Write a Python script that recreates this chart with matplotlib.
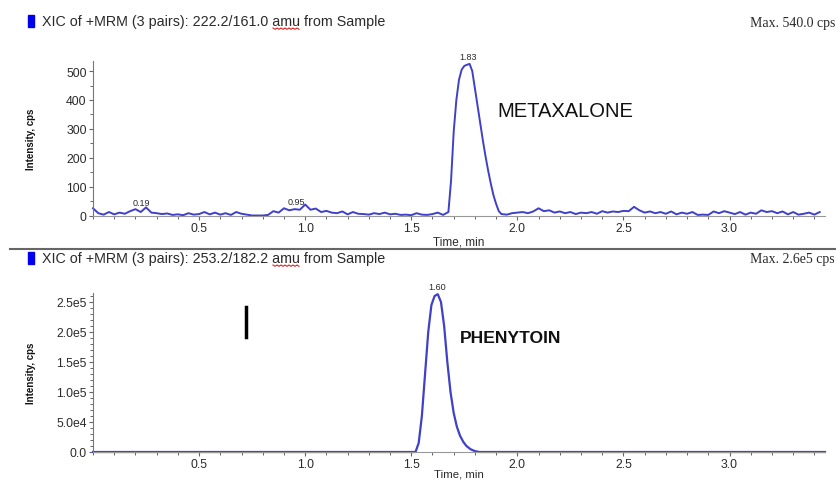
import numpy as np
import matplotlib
matplotlib.use("Agg")
import matplotlib.pyplot as plt
from matplotlib.lines import Line2D
from matplotlib.patches import Rectangle
from matplotlib.ticker import MultipleLocator, FixedLocator

plt.rcParams['font.family'] = ['Liberation Sans', 'DejaVu Sans']

# metaxalone baseline, 0.025 min steps (peak region handled separately)
base_a = [25, 8, 3, 12, 4, 10, 6, 15, 22, 12, 28, 10, 8, 5, 7, 2, 4, 1, 8, 3,
          5, 12, 4, 10, 3, 8, 2, 12, 6, 3, 0, 0, 0, 2, 15, 10, 25, 18, 22, 20,
          38, 20, 24, 12, 16, 10, 8, 14, 4, 12, 6, 5, 3, 8, 5, 10, 4, 6, 2, 3,
          1, 8, 3, 2, 5, 10, 2]                      # 0.000 .. 1.650
peak_t = [1.675, 1.6875, 1.70, 1.7125, 1.725, 1.7375, 1.75, 1.7625, 1.775, 1.7875,
          1.80, 1.8125, 1.825, 1.8375, 1.85, 1.8625, 1.875, 1.8875, 1.90, 1.9125, 1.925]
peak_v = [12, 120, 290, 400, 470, 505, 518, 522, 525, 500,
          440, 380, 320, 260, 205, 155, 110, 70, 40, 15, 5]
base_b = [3, 8,
          10, 12, 8, 14, 25, 15, 18, 10, 14, 8, 12, 5, 10, 8, 12, 6, 15, 10, 14, 12,
          16, 15, 30, 18, 10, 14, 8, 12, 6, 14, 4, 10, 6, 12, 2, 3, 2, 14, 8, 15,
          10, 5, 12, 3, 10, 6, 18, 12, 15, 8, 14, 4, 12, 3, 6, 10, 3, 12]  # 1.950 .. 3.425

metax_t = np.concatenate([np.arange(len(base_a)) * 0.025, peak_t,
                          1.95 + np.arange(len(base_b)) * 0.025])
metax_int = base_a + peak_v + base_b

# phenytoin trace
pheny_t = [0.0, 1.50, 1.52, 1.535, 1.55, 1.565, 1.58, 1.595, 1.61, 1.625, 1.64, 1.655,
           1.67, 1.685, 1.70, 1.715, 1.73, 1.745, 1.76, 1.78, 1.80, 1.82, 3.45]
pheny_int = [0, 0, 0, 1.5e4, 6.0e4, 1.3e5, 2.0e5, 2.45e5, 2.6e5, 2.63e5, 2.5e5, 2.1e5,
             1.5e5, 1.0e5, 6.5e4, 4.2e4, 2.7e4, 1.7e4, 1.0e4, 4.5e3, 1.5e3, 0, 0]

headers = ["XIC of +MRM (3 pairs): 222.2/161.0 amu from Sample",
           "XIC of +MRM (3 pairs): 253.2/182.2 amu from Sample"]
max_txt = ["Max. 540.0 cps", "Max. 2.6e5 cps"]

top_ticks = [0, 100, 200, 300, 400, 500]
bot_ticks = [0, 5e4, 1e5, 1.5e5, 2e5, 2.5e5]
bot_labels = ["0.0", "5.0e4", "1.0e5", "1.5e5", "2.0e5", "2.5e5"]
x_ticks = [0.5, 1.0, 1.5, 2.0, 2.5, 3.0]

W, H = 837, 481
fig = plt.figure(figsize=(W / 100, H / 100), dpi=100)
lc = '#4040c8'
tc = '#2a2a2a'

def fx(px):
    return np.asarray(px) / W

def fy(py):
    return 1 - np.asarray(py) / H

ax1 = fig.add_axes([fx(93), fy(216.5), fx(732), (216.5 - 62) / H])
ax2 = fig.add_axes([fx(93), fy(453), fx(732), (453 - 294) / H])

ax1.plot(metax_t, metax_int, color=lc, lw=1.4, clip_on=False)
ax2.plot(pheny_t, pheny_int, color=lc, lw=1.6, clip_on=False)

ax1.set_ylim(0, 535)
ax2.set_ylim(0, 2.65e5)
for ax in (ax1, ax2):
    ax.set_xlim(0, 3.45)
    for s in ('top', 'right'):
        ax.spines[s].set_visible(False)
    ax.spines['left'].set_color('#777777')
    ax.spines['bottom'].set_color('#999999')
    ax.spines['left'].set_linewidth(0.8)
    ax.spines['bottom'].set_linewidth(0.8)
    ax.xaxis.set_major_locator(FixedLocator(x_ticks))
    ax.xaxis.set_minor_locator(MultipleLocator(0.1))
    ax.set_xticklabels([f"{v:.1f}" for v in x_ticks])
    ax.tick_params(which='both', direction='out', colors='#666666', labelcolor=tc,
                   labelsize=8.8, pad=1.5)
    ax.tick_params(which='major', length=3, width=0.8)
    ax.tick_params(which='minor', length=2, width=0.7)
    ax.set_ylabel("Intensity, cps", fontsize=7, color='#111111', fontweight='bold',
                  labelpad=0)
    ax.yaxis.set_label_coords(-0.078, 0.5)

ax1.set_xlabel("Time, min", fontsize=8.5, color=tc, labelpad=1)
ax2.set_xlabel("Time, min", fontsize=8.2, color=tc, labelpad=-1.5)

ax1.yaxis.set_major_locator(FixedLocator(top_ticks))
ax1.yaxis.set_minor_locator(MultipleLocator(50))
ax1.set_yticklabels([str(v) for v in top_ticks])
ax2.yaxis.set_major_locator(FixedLocator(bot_ticks))
ax2.yaxis.set_minor_locator(MultipleLocator(1e4))
ax2.set_yticklabels(bot_labels)

# peak labels
ax1.text(1.77, 535, "1.83", fontsize=6.5, ha='center', va='bottom', color=tc, clip_on=False)
ax1.text(0.23, 30, "0.19", fontsize=6.5, ha='center', va='bottom', color=tc)
ax1.text(0.96, 33, "0.95", fontsize=6.5, ha='center', va='bottom', color=tc)
ax2.text(1.62, 2.68e5, "1.60", fontsize=6.5, ha='center', va='bottom', color=tc, clip_on=False)

ax1.text(1.905, 365, "METAXALONE", fontsize=14.5, color='#111111', va='center')
ax2.text(1.73, 1.9e5, "PHENYTOIN", fontsize=12.6, color='#111111', va='center',
         fontweight='bold')

# headers
for i, y in enumerate([22, 259]):
    fig.add_artist(Rectangle((fx(28), fy(y + 6)), fx(6), 12 / H, color='#0000ee'))
    fig.text(fx(42), fy(y), headers[i], fontsize=10.3, color=tc, va='center')
    fig.text(fx(835), fy(y + 1), max_txt[i], fontsize=10, color=tc, va='center',
             ha='right', family='Liberation Serif')
    # spell-check squiggle under "amu"
    zx = np.linspace(273, 299, 14)
    zy = y + 7 + 1.3 * (np.arange(14) % 2)
    fig.add_artist(Line2D(fx(zx), fy(zy), color='#dd2222', lw=0.8))

# separator
fig.add_artist(Line2D([fx(10), fx(837)], [fy(250), fy(250)], color='#666666', lw=1.5))

# text cursor
fig.add_artist(Line2D([fx(246), fx(246)], [fy(308), fy(338)], color='black', lw=2.5))

fig.savefig("out.png", dpi=100)
